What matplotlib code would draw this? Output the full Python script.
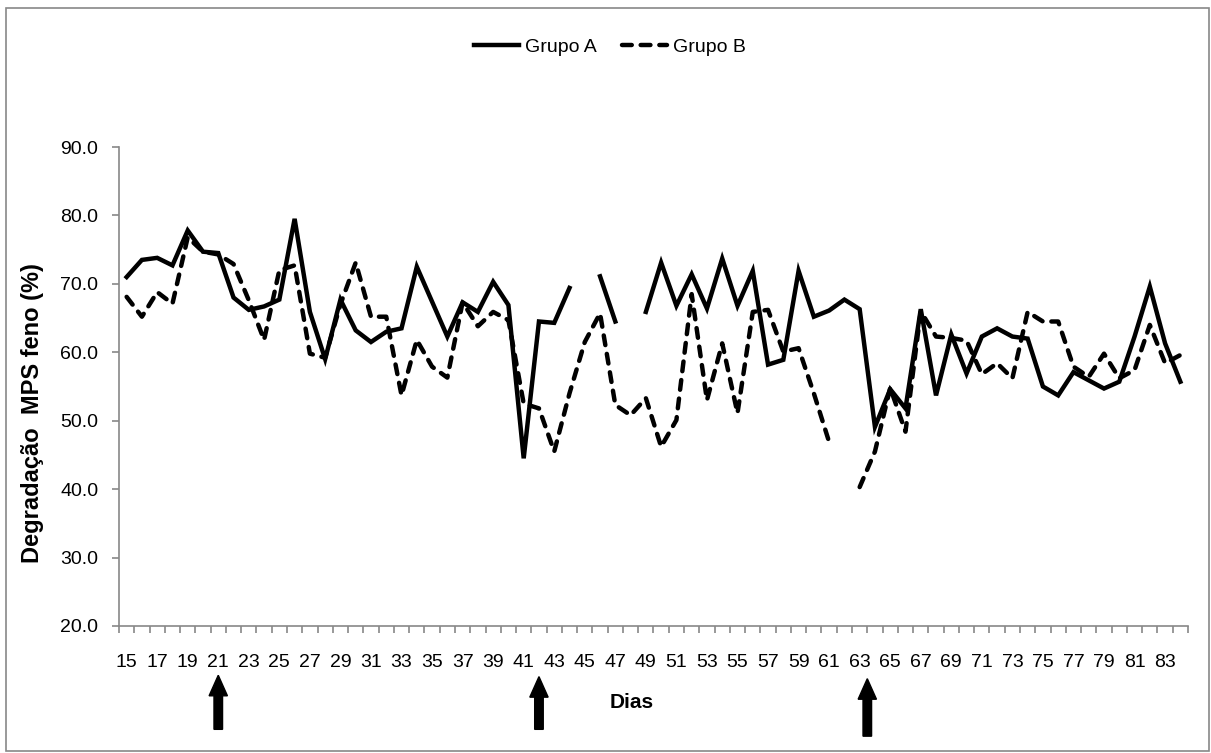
import numpy as np
import matplotlib
matplotlib.use("Agg")
import matplotlib.pyplot as plt
from matplotlib import font_manager
from matplotlib.patches import Rectangle

nan = np.nan
days = list(range(15, 85))
grupo_a = [71.0, 73.5, 73.8, 72.7, 77.8, 74.7, 74.5, 68.0, 66.2, 66.7,
           67.7, 79.5, 65.9, 59.0, 67.7, 63.2, 61.5, 63.0, 63.5, 72.5,
           67.4, 62.3, 67.3, 65.9, 70.3, 66.9, 44.5, 64.5, 64.3, 69.4,
           nan, 71.1, 64.5, nan, 65.9, 73.1, 66.8, 71.4, 66.4, 73.7,
           66.8, 71.9, 58.2, 58.9, 71.9, 65.2, 66.1, 67.7, 66.3, 49.1,
           54.6, 51.8, 66.3, 53.7, 62.6, 56.9, 62.3, 63.5, 62.3, 62.0,
           55.0, 53.7, 57.1, 55.9, 54.7, 55.7, 62.3, 69.6, 61.3, 55.7]
grupo_b = [68.1, 65.2, 68.8, 67.1, 76.8, 74.7, 74.3, 72.9, 67.6, 61.8,
           72.0, 72.7, 59.8, 59.2, 67.0, 73.1, 65.2, 65.2, 53.7, 61.8,
           57.9, 56.3, 67.3, 63.8, 65.9, 64.7, 52.5, 51.8, 45.5, 54.0,
           61.5, 65.7, 52.3, 50.8, 53.3, 46.2, 50.1, 68.5, 53.0, 61.3,
           51.1, 65.9, 66.2, 60.1, 60.6, 54.0, 46.9, nan, 40.3, 45.5,
           54.8, 48.4, 66.0, 62.3, 62.1, 61.7, 56.8, 58.4, 56.2, 65.9,
           64.5, 64.5, 57.9, 56.4, 59.8, 56.2, 57.4, 64.0, 58.4, 59.6]
series_labels = ["Grupo A", "Grupo B"]
arrow_days = [21, 42, 63.5]
y_ticks = [20, 30, 40, 50, 60, 70, 80, 90]
x_label = "Dias"
y_label = "Degradação  MPS feno (%)"

names = {f.name for f in font_manager.fontManager.ttflist}
narrow = "Liberation Sans Narrow" if "Liberation Sans Narrow" in names else "Liberation Sans"
nsize = 17 if narrow == "Liberation Sans Narrow" else 14
plt.rcParams['font.family'] = [narrow, 'DejaVu Sans']

W, H = 1211, 753
fig = plt.figure(figsize=(W / 100, H / 100), dpi=100)
ax = fig.add_axes([119 / W, 1 - 626 / H, (1188 - 119) / W, (626 - 147) / H])

x = np.array(days, dtype=float)
ax.plot(x, grupo_a, color='black', lw=3.2, solid_joinstyle='miter',
        label=series_labels[0])
ax.plot(x, grupo_b, color='black', lw=3.2, linestyle=(0, (2.2, 2.0)),
        dash_capstyle='round', label=series_labels[1])

ax.set_xlim(days[0] - 0.5, days[-1] + 0.5)
ax.set_ylim(20, 90)

gray = '#888888'
for s in ['top', 'right']:
    ax.spines[s].set_visible(False)
for s in ['left', 'bottom']:
    ax.spines[s].set_color(gray)
    ax.spines[s].set_linewidth(1.2)

ax.set_yticks(y_ticks)
ax.set_yticklabels([f"{v:.1f}" for v in y_ticks])
ax.tick_params(axis='y', length=5, width=1.2, color=gray, pad=10,
               labelsize=nsize)

ax.set_xticks(days[::2])
ax.set_xticklabels([str(d) for d in days[::2]])
ax.set_xticks(np.arange(days[0] - 0.5, days[-1] + 1.0, 1.0), minor=True)
ax.tick_params(axis='x', which='major', length=0, pad=20, labelsize=nsize)
ax.tick_params(axis='x', which='minor', length=5, width=1.2, color=gray)

fig.text(632 / W, 1 - 703 / H, x_label, ha='center', va='center',
         fontsize=15, fontweight='bold', family='Liberation Sans')
fig.text(33 / W, 1 - 413 / H, y_label, ha='center', va='center',
         rotation=90, fontsize=17, fontweight='bold', family='Liberation Sans')

# arrows below the axis
tips = [12.8, 12.6, 12.3]
bases = [4.9, 4.9, 3.9]
for d, t, b in zip(arrow_days, tips, bases):
    ax.arrow(d, b, 0, t - b, width=0.56, head_width=1.2, head_length=3.0,
             length_includes_head=True, color='black', clip_on=False)

leg = fig.legend(loc='center', bbox_to_anchor=(610 / W, 1 - 47 / H), ncol=2,
                 frameon=False, fontsize=nsize, handlelength=2.3,
                 handletextpad=0.3, columnspacing=1.3)

fig.patches.append(Rectangle((6 / W, 1 - 751 / H), (1209 - 6) / W, (751 - 8) / H,
                             transform=fig.transFigure, fill=False,
                             edgecolor=gray, lw=1.2))

fig.savefig("out.png", dpi=100)
